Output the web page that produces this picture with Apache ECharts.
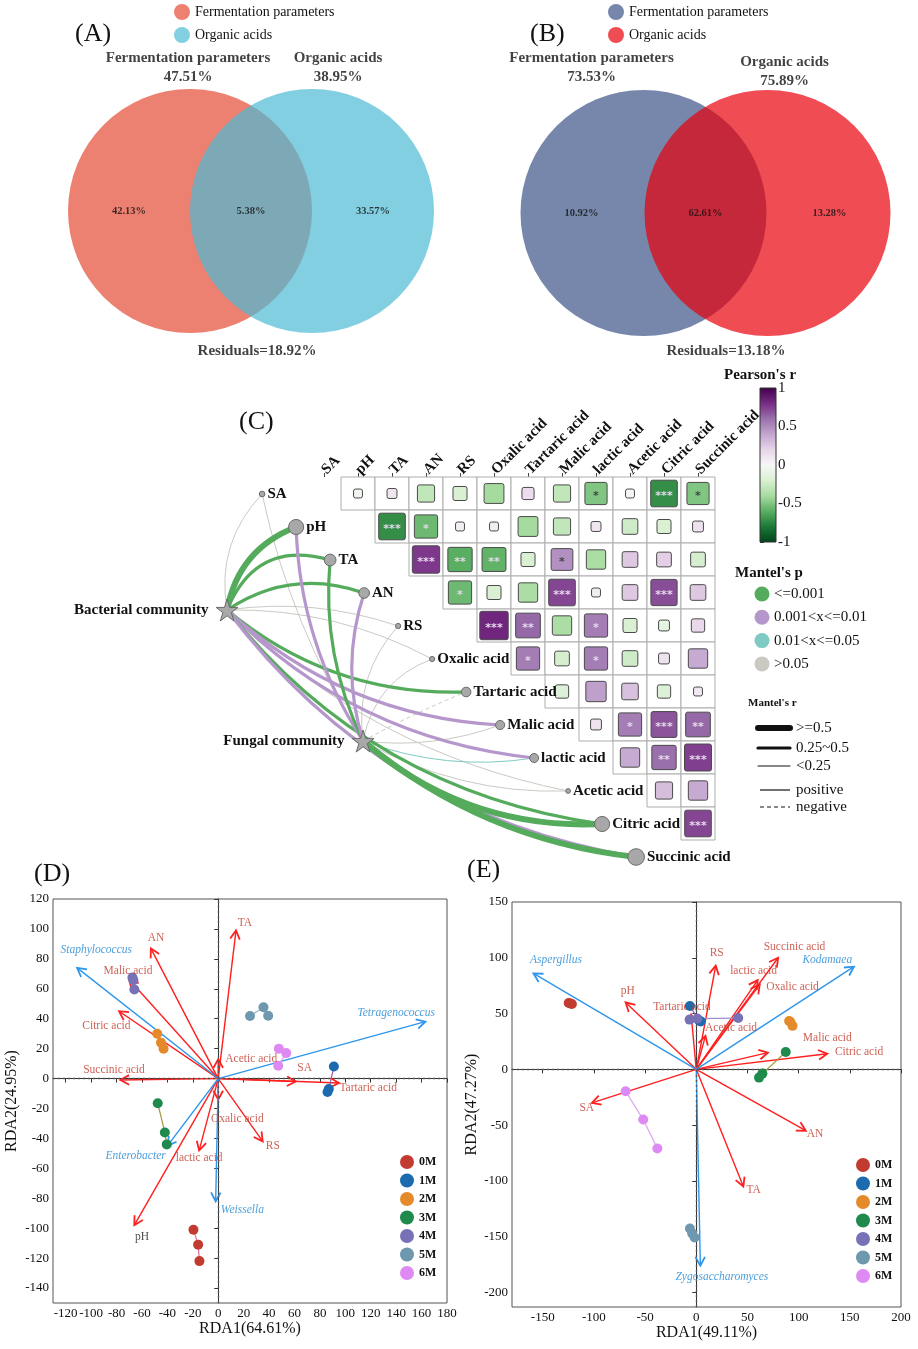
<!DOCTYPE html>
<html><head><meta charset="utf-8">
<script src="https://cdn.jsdelivr.net/npm/echarts@6/dist/echarts.min.js"></script>
<style>html,body{margin:0;padding:0;background:#fff}#c{width:918px;height:1349px}</style>
</head><body><div id="c"></div>
<script>
// ===================== DATA =====================
// Panels A / B (Venn / variance partitioning)
const vennSets = ['Fermentation parameters', 'Organic acids'];
const vennA_setPct = ['47.51%', '38.95%'];
const vennA_regions = ['42.13%', '5.38%', '33.57%'];
const vennA_residual = 'Residuals=18.92%';
const vennB_setPct = ['73.53%', '75.89%'];
const vennB_regions = ['10.92%', '62.61%', '13.28%'];
const vennB_residual = 'Residuals=13.18%';

// Panel C (Pearson correlation + Mantel tests)
const envVars = ['SA','pH','TA','AN','RS','Oxalic acid','Tartaric acid','Malic acid','lactic acid','Acetic acid','Citric acid','Succinic acid'];
// corrR[i][k] = r between envVars[i] and envVars[i+1+k]
const corrR = [
 [-0.05, 0.10, -0.30, -0.20, -0.40, 0.15, -0.30, -0.50, 0.02, -0.72, -0.50],
 [-0.72, -0.55, 0.05, 0.05, -0.40, -0.30, 0.10, -0.25, -0.20, 0.12],
 [0.76, -0.60, -0.58, -0.20, 0.48, -0.38, 0.25, 0.22, -0.22],
 [-0.55, -0.20, -0.38, 0.72, 0.05, 0.25, 0.70, 0.25],
 [0.82, 0.62, -0.38, 0.55, -0.20, -0.12, 0.18],
 [0.55, -0.22, 0.55, -0.25, 0.12, 0.38],
 [-0.18, 0.42, 0.28, -0.18, 0.08],
 [0.12, 0.55, 0.68, 0.62],
 [0.38, 0.60, 0.74],
 [0.30, 0.38],
 [0.72]
];
const corrSig = [
 ['', '', '', '', '', '', '', '*', '', '***', '*'],
 ['***', '*', '', '', '', '', '', '', '', ''],
 ['***', '**', '**', '', '*', '', '', '', ''],
 ['*', '', '', '***', '', '', '***', ''],
 ['***', '**', '', '*', '', '', ''],
 ['*', '', '*', '', '', ''],
 ['', '', '', '', ''],
 ['', '*', '***', '**'],
 ['', '**', '***'],
 ['', ''],
 ['***']
];
const communities = ['Bacterial community', 'Fungal community'];
const mantelR = [
 [0.12, 0.55, 0.38, 0.35, 0.10, 0.10, 0.30, 0.28, 0.27, 0.05, 0.35, 0.30],
 [0.08, 0.30, 0.40, 0.30, 0.10, 0.10, -0.05, 0.10, 0.15, 0.08, 0.55, 0.62]
];
const mantelP = [
 [0.20, 0.001, 0.001, 0.001, 0.30, 0.20, 0.001, 0.005, 0.005, 0.40, 0.001, 0.005],
 [0.30, 0.005, 0.001, 0.005, 0.20, 0.30, 0.60, 0.10, 0.03, 0.30, 0.001, 0.001]
];
const colorbarTicks = [-1, -0.5, 0, 0.5, 1];

// Panels D / E (RDA)
const sampleGroups = ['0M','1M','2M','3M','4M','5M','6M'];
const dEnvX = [61, -66, 14, -53, 35, 0, 95, -70, -15, 0, -78, -77];
const dEnvY = [-2, -98, 99, 87, -42, -14, -3, 66, -48, 13, 45, -1];
const dEnvLabelX = [68, -60, 21, -49, 43, 15, 118, -71, -15, 26, -88, -82];
const dEnvLabelY = [7, -106, 104, 94, -45, -27, -6, 72, -53, 13, 35, 6];
const dSpecies = ['Staphylococcus', 'Tetragenococcus', 'Enterobacter', 'Weissella'];
const dSpX = [-111, 163, -40, -2];
const dSpY = [74, 38, -45, -82];
const dSpLabelX = [-96, 140, -65, 19];
const dSpLabelY = [86, 44, -52, -88];
const dSampleX = [[-19.5,-15.8,-14.8],[91,87,86],[-48,-45,-43],[-47.6,-42,-40.5],[-67.5,-66.7,-66],[25,35.6,39.3],[47.7,53.5,47.2]];
const dSampleY = [[-101,-111,-122],[8,-7,-9],[30,24,20],[-16.5,-36,-44],[67.5,65.7,59.5],[41.8,47.6,42],[20,17,8.5]];
const dXTicks = [-120,-100,-80,-60,-40,-20,0,20,40,60,80,100,120,140,160,180];
const dYTicks = [-140,-120,-100,-80,-60,-40,-20,0,20,40,60,80,100,120];

const eEnvX = [-102, -69, 46, 107, 19, 62, -5, 70, 60, 9, 128, 80];
const eEnvY = [-30, 60, -105, -55, 93, 76, 49, 15, 80, 30, 14, 100];
const eEnvLabelX = [-107, -67, 56, 116, 20, 94, -14, 128, 56, 34, 159, 96];
const eEnvLabelY = [-35, 70, -108, -58, 104, 74, 56, 28, 88, 37, 16, 110];
const eSpecies = ['Aspergillus', 'Kodamaea', 'Zygosaccharomyces'];
const eSpX = [-159, 154, 4];
const eSpY = [86, 92, -176];
const eSpLabelX = [-137, 128, 25];
const eSpLabelY = [98, 98, -186];
const eSampleX = [[-124.6,-123,-121.5],[-6.2,2.6,4.3],[90.7,92,94],[87.4,64.6,61.3],[-6.5,1,41],[-6.2,-4,-1.6],[-69,-51.8,-38]];
const eSampleY = [[59.5,59,58.5],[56.8,44,43],[43.4,42.5,39],[15.6,-3.8,-7.4],[44.6,45.5,46],[-142.6,-147,-150.7],[-19.6,-45,-71]];
const eXTicks = [-150,-100,-50,0,50,100,150,200];
const eYTicks = [-200,-150,-100,-50,0,50,100,150];

// ===================== STYLE =====================
const SERIF = '"Liberation Serif", "Times New Roman", serif';
const PRGN = ['#00441B','#1B7837','#5AAE61','#A6DBA0','#D9F0D3','#F7F7F7','#E7D4E8','#C2A5CF','#9970AB','#762A83','#40004B'];
const P_COLORS = ['#55AB5C', '#B697CC', '#7FCBC4', '#CACAC3'];
const groupColors = ['#C23B30','#1B6BAE','#E58A2B','#1E8A4C','#7771B5','#6E98AE','#DE8AF2'];
const groupLineColors = ['#E56B9A','#8E5B9F','#D9A05B','#A39A3F','#9C8FC9','#9FB4C4','#D8A3F0'];
const RED = '#FF1F1F', BLUE = '#2E96EA', REDTXT = '#C0392B', BLUETXT = '#1F86CF';
const vennColorsA = ['#E64B35', '#4DBBD5'];
const vennColorsB = ['#3C5488', '#E8000B'];
const edgeCurve = [
 [0.25, 0.28, 0.45, 0.25, 0.12, 0.13, -0.19, -0.18, -0.18, -0.15, -0.2, -0.2],
 [0.09, 0.14, 0.14, 0.16, 0.23, 0.28, 0.03, -0.12, -0.13, -0.14, -0.2, -0.15]
];
const communityPos = [[-2.35, 4.03], [1.65, 8.0]];

function starPath() {
  let d = '';
  for (let k = 0; k < 10; k++) {
    const R = k % 2 === 0 ? 50 : 19.1;
    const a = -Math.PI / 2 + k * Math.PI / 5;
    d += (k === 0 ? 'M' : 'L') + (50 + R * Math.cos(a)).toFixed(2) + ',' + (50 + R * Math.sin(a)).toFixed(2) + ' ';
  }
  return 'path://' + d + 'Z';
}

const series = [];

// ---------- Venn panels ----------
function vennPanel(gi, colors, setPct, regions, residual, size, titleOffsets, residualPos) {
  vennSets.forEach((name, k) => {
    series.push({
      type: 'scatter', name, xAxisIndex: gi, yAxisIndex: gi, symbolSize: size, silent: true,
      data: [[k === 0 ? -0.5 : 0.5, 0]],
      itemStyle: { color: colors[k], opacity: 0.7 }, z: 2 + k
    });
  });
  series.push({
    type: 'scatter', xAxisIndex: gi, yAxisIndex: gi, symbolSize: 0, silent: true, z: 10,
    data: vennSets.map((name, k) => ({ value: [k === 0 ? -0.5 : 0.5, 1], name: name + '\n' + setPct[k], label: { offset: titleOffsets[k] } })),
    label: { show: true, position: 'top', distance: 2, formatter: '{b}', align: 'center', lineHeight: 19,
      fontFamily: SERIF, fontWeight: 'bold', fontSize: 15, color: '#111' }
  });
  series.push({
    type: 'scatter', xAxisIndex: gi, yAxisIndex: gi, symbolSize: 0, silent: true, z: 10,
    data: [-1, 0, 1].map((x, k) => ({ value: [x, 0], name: regions[k] })),
    label: { show: true, position: 'inside', formatter: '{b}', fontFamily: SERIF, fontWeight: 'bold', fontSize: 10.5, color: '#111' }
  });
  series.push({
    type: 'scatter', xAxisIndex: gi, yAxisIndex: gi, symbolSize: 0, silent: true, z: 10,
    data: [{ value: residualPos, name: residual }],
    label: { show: true, position: 'inside', formatter: '{b}', fontFamily: SERIF, fontWeight: 'bold', fontSize: 15, color: '#111' }
  });
}
vennPanel(0, vennColorsA, vennA_setPct, vennA_regions, vennA_residual, 244, [[-2, 0], [26, 0]], [0.05, -1.15]);
vennPanel(1, vennColorsB, vennB_setPct, vennB_regions, vennB_residual, 246, [[-52, 0], [17, 4]], [0.165, -1.11]);

// ---------- Panel C heatmap ----------
const heatData = [], heatSig = [];
corrR.forEach((row, i) => row.forEach((r, k) => { heatData.push([i + 1 + k, i, r]); heatSig.push(corrSig[i][k]); }));
const heatIndex = series.length;
series.push({
  type: 'custom', xAxisIndex: 2, yAxisIndex: 2, silent: true, z: 5,
  data: heatData,
  renderItem: (params, api) => {
    const c = api.coord([api.value(0), api.value(1)]);
    const s = api.size([1, 1]);
    const r = api.value(2);
    const side = Math.min(s[0], s[1]) * Math.max(0.27, 0.95 * Math.sqrt(Math.abs(r)));
    const sig = heatSig[params.dataIndex];
    return { type: 'group', children: [
      { type: 'rect', shape: { x: c[0] - s[0] / 2, y: c[1] - s[1] / 2, width: s[0], height: s[1] }, style: { fill: '#fff', stroke: '#ADADAD', lineWidth: 1 } },
      { type: 'rect', shape: { x: c[0] - side / 2, y: c[1] - side / 2, width: side, height: side, r: 2 }, style: { fill: api.visual('color'), stroke: '#4a4a4a', lineWidth: 1 } },
      { type: 'text', x: c[0], y: c[1] + 3, style: { text: sig, align: 'center', verticalAlign: 'middle', fill: Math.abs(r) > 0.52 ? '#E6DAEC' : '#444', font: 'bold 11px "DejaVu Sans"' } }
    ] };
  }
});

// ---------- Panel C network ----------
const STAR = starPath();
const nodes = envVars.map((name, i) => {
  const maxR = Math.max(Math.abs(mantelR[0][i]), Math.abs(mantelR[1][i]));
  return { name, value: [i - 1.32, i + 0.515], symbolSize: 3 + 22 * maxR, label: { position: 'right', distance: 2 } };
});
communities.forEach((name, c) => nodes.push({ name, value: communityPos[c], symbol: STAR, symbolSize: 22,
  label: { position: 'left', distance: 7 } }));
const links = [];
mantelR.forEach((row, c) => row.forEach((r, i) => {
  const p = mantelP[c][i];
  const color = p <= 0.001 ? P_COLORS[0] : p <= 0.01 ? P_COLORS[1] : p <= 0.05 ? P_COLORS[2] : P_COLORS[3];
  const a = Math.abs(r);
  const width = a >= 0.5 ? 6 : a >= 0.25 ? 3.2 : 1;
  links.push({ source: envVars.length + c, target: i,
    lineStyle: { color, width, curveness: edgeCurve[c][i], type: r < 0 ? [4, 3] : 'solid', opacity: 1 } });
}));
links.sort((a, b) => a.lineStyle.width - b.lineStyle.width);
series.push({
  type: 'graph', coordinateSystem: 'cartesian2d', xAxisIndex: 3, yAxisIndex: 3, layout: 'none', silent: true, z: 7,
  data: nodes, links,
  itemStyle: { color: '#A8A8A8', borderColor: '#6a6a6a', borderWidth: 1 },
  lineStyle: { opacity: 1 },
  label: { show: true, formatter: '{b}', fontFamily: SERIF, fontWeight: 'bold', fontSize: 15, color: '#111' },
  emphasis: { disabled: true }
});

// ---------- Colorbar ----------
series.push({
  type: 'custom', xAxisIndex: 4, yAxisIndex: 4, silent: true, data: [[0, 0]],
  renderItem: (params, api) => {
    const a = api.coord([0, 1]), b = api.coord([1, -1]);
    const stops = PRGN.slice().reverse().map((col, k) => ({ offset: k / (PRGN.length - 1), color: col }));
    return { type: 'rect', shape: { x: a[0], y: a[1], width: b[0] - a[0], height: b[1] - a[1] },
      style: { fill: new echarts.graphic.LinearGradient(0, 0, 0, 1, stops), stroke: '#333', lineWidth: 1 } };
  }
});

// ---------- RDA panels ----------
function arrowItem(color) {
  return (params, api) => {
    const o = api.coord([0, 0]), t = api.coord([api.value(0), api.value(1)]);
    const ang = Math.atan2(t[1] - o[1], t[0] - o[0]);
    const L = 10, A = 0.5;
    const p1 = [t[0] - L * Math.cos(ang - A), t[1] - L * Math.sin(ang - A)];
    const p2 = [t[0] - L * Math.cos(ang + A), t[1] - L * Math.sin(ang + A)];
    return { type: 'group', children: [
      { type: 'line', shape: { x1: o[0], y1: o[1], x2: t[0], y2: t[1] }, style: { stroke: color, lineWidth: 1.4 } },
      { type: 'polyline', shape: { points: [p1, t, p2] }, style: { stroke: color, lineWidth: 1.8, fill: null } }
    ] };
  };
}
function rdaPanel(gi, envX, envY, envLX, envLY, spNames, spX, spY, spLX, spLY, sX, sY, darkLabels) {
  series.push({ type: 'custom', xAxisIndex: gi, yAxisIndex: gi, silent: true, z: 3, renderItem: arrowItem(RED),
    data: envX.map((x, i) => [x, envY[i]]) });
  series.push({ type: 'custom', xAxisIndex: gi, yAxisIndex: gi, silent: true, z: 3, renderItem: arrowItem(BLUE),
    data: spX.map((x, i) => [x, spY[i]]) });
  series.push({ type: 'scatter', xAxisIndex: gi, yAxisIndex: gi, symbolSize: 0, silent: true, z: 6,
    data: envVars.map((n, i) => ({ name: n, value: [envLX[i], envLY[i]], label: { color: darkLabels.indexOf(n) >= 0 ? '#222' : REDTXT } })),
    label: { show: true, position: 'inside', formatter: '{b}', fontFamily: SERIF, fontSize: 11.5 },
    markLine: { silent: true, symbol: ['none', 'none'], label: { show: false },
      lineStyle: { type: [2, 3], color: '#555', width: 1.4 }, data: [{ xAxis: 0 }, { yAxis: 0 }] }
  });
  series.push({ type: 'scatter', xAxisIndex: gi, yAxisIndex: gi, symbolSize: 0, silent: true, z: 6,
    data: spNames.map((n, i) => ({ name: n, value: [spLX[i], spLY[i]] })),
    label: { show: true, position: 'inside', formatter: '{b}', fontFamily: SERIF, fontSize: 11.5, fontStyle: 'italic', color: BLUETXT }
  });
  sampleGroups.forEach((g, k) => series.push({
    type: 'line', name: g, xAxisIndex: gi, yAxisIndex: gi, silent: true, z: 5,
    data: sX[k].map((x, m) => [x, sY[k][m]]),
    symbol: 'circle', symbolSize: 10, showSymbol: true,
    itemStyle: { color: groupColors[k] }, lineStyle: { color: groupLineColors[k], width: 1.2 }
  }));
}
rdaPanel(5, dEnvX, dEnvY, dEnvLabelX, dEnvLabelY, dSpecies, dSpX, dSpY, dSpLabelX, dSpLabelY, dSampleX, dSampleY, ['pH']);
rdaPanel(6, eEnvX, eEnvY, eEnvLabelX, eEnvLabelY, eSpecies, eSpX, eSpY, eSpLabelX, eSpLabelY, eSampleX, eSampleY, []);

function rdaAxis(gi, min, max, ticks, name, gap) {
  return { gridIndex: gi, type: 'value', min, max,
    axisLine: { show: true, lineStyle: { color: '#333' } },
    axisTick: { show: true, length: 4, customValues: ticks, lineStyle: { color: '#333' } },
    axisLabel: { customValues: ticks, fontFamily: SERIF, fontSize: 13, color: '#111', margin: 4 },
    splitLine: { show: false },
    name, nameLocation: 'middle', nameGap: gap,
    nameTextStyle: { fontFamily: SERIF, fontSize: 16, color: '#111' } };
}

// ---------- Custom legends (panel C) ----------
const graphics = [];
function gtext(text, x, y, font, align) {
  graphics.push({ type: 'text', x, y, silent: true, style: { text, font, fill: '#111', align: align || 'left', verticalAlign: 'middle' } });
}
gtext("Pearson's r", 760, 375, 'bold 15px ' + SERIF, 'center');
gtext("Mantel's p", 735, 573, 'bold 15px ' + SERIF);
['<=0.001', '0.001<x<=0.01', '0.01<x<=0.05', '>0.05'].forEach((t, k) => {
  const y = 594 + k * 23.3;
  graphics.push({ type: 'circle', silent: true, shape: { cx: 762, cy: y, r: 7.5 }, style: { fill: P_COLORS[k] } });
  gtext(t, 774, y, '15px ' + SERIF);
});
gtext("Mantel's r", 748, 703, 'bold 11px ' + SERIF);
[['>=0.5', 728, 6], ['0.25~0.5', 748, 3.2], ['<0.25', 766, 1]].forEach(([t, y, w]) => {
  graphics.push({ type: 'line', silent: true, shape: { x1: 758, y1: y, x2: 790, y2: y }, style: { stroke: '#111', lineWidth: w, lineCap: 'round' } });
  gtext(t, 796, y, '15px ' + SERIF);
});
[['positive', 790, null], ['negative', 807, [4, 3]]].forEach(([t, y, dash]) => {
  graphics.push({ type: 'line', silent: true, shape: { x1: 760, y1: y, x2: 790, y2: y }, style: { stroke: '#111', lineWidth: 1.2, lineDash: dash } });
  gtext(t, 796, y, '15px ' + SERIF);
});

const legendText = { fontFamily: SERIF, fontSize: 14, color: '#111' };
const option = {
  animation: false,
  backgroundColor: '#fff',
  title: [['(A)', 75, 21], ['(B)', 530, 21], ['(C)', 239, 409], ['(D)', 34, 861], ['(E)', 467, 857]].map(([t, l, tp]) => ({
    text: t, left: l, top: tp, padding: 0, textStyle: { fontFamily: SERIF, fontSize: 26, fontWeight: 'normal', color: '#111' } })),
  legend: [
    { left: 174, top: 4, padding: 0, orient: 'vertical', icon: 'circle', itemWidth: 16, itemHeight: 16, itemGap: 7, selectedMode: false, textStyle: legendText,
      data: vennSets.map((n, k) => ({ name: n, itemStyle: { color: vennColorsA[k], opacity: 0.7 } })) },
    { left: 608, top: 4, padding: 0, orient: 'vertical', icon: 'circle', itemWidth: 16, itemHeight: 16, itemGap: 7, selectedMode: false, textStyle: legendText,
      data: vennSets.map((n, k) => ({ name: n, itemStyle: { color: vennColorsB[k], opacity: 0.7 } })) },
    { left: 400, top: 1155, padding: 0, orient: 'vertical', icon: 'circle', itemWidth: 14, itemHeight: 14, itemGap: 4.5, selectedMode: false,
      textStyle: { fontFamily: SERIF, fontSize: 12, fontWeight: 'bold', color: '#111' }, data: sampleGroups },
    { left: 856, top: 1158, padding: 0, orient: 'vertical', icon: 'circle', itemWidth: 14, itemHeight: 14, itemGap: 4.5, selectedMode: false,
      textStyle: { fontFamily: SERIF, fontSize: 12, fontWeight: 'bold', color: '#111' }, data: sampleGroups }
  ],
  grid: [
    { left: 55.8, top: 15.8, width: 390.4, height: 390.4 },
    { left: 507.1, top: 14.6, width: 396.8, height: 396.8 },
    { left: 307, top: 477, width: 408, height: 363 },
    { left: 35, top: 378, width: 714, height: 528 },
    { left: 760, top: 388, width: 16, height: 154 },
    { left: 53, top: 899, width: 394, height: 404, show: true, borderColor: '#555', borderWidth: 1 },
    { left: 512, top: 902, width: 389, height: 405, show: true, borderColor: '#555', borderWidth: 1 }
  ],
  xAxis: [
    { gridIndex: 0, type: 'value', min: -1.6, max: 1.6, show: false },
    { gridIndex: 1, type: 'value', min: -1.6, max: 1.6, show: false },
    { gridIndex: 2, type: 'category', data: envVars, position: 'top', boundaryGap: true,
      axisLine: { show: false }, axisTick: { show: true, alignWithLabel: true, length: 4, lineStyle: { color: '#444' } },
      axisLabel: { rotate: -45, margin: 5, interval: 0, fontFamily: SERIF, fontWeight: 'bold', fontSize: 15, color: '#111' },
      splitLine: { show: false } },
    { gridIndex: 3, type: 'value', min: -8, max: 13, show: false },
    { gridIndex: 4, type: 'value', min: 0, max: 1, show: false },
    rdaAxis(5, -130, 180, dXTicks, 'RDA1(64.61%)', 18),
    rdaAxis(6, -180, 200, eXTicks, 'RDA1(49.11%)', 18)
  ],
  yAxis: [
    { gridIndex: 0, type: 'value', min: -1.6, max: 1.6, show: false },
    { gridIndex: 1, type: 'value', min: -1.6, max: 1.6, show: false },
    { gridIndex: 2, type: 'category', data: envVars.slice(0, 11), inverse: true, show: false },
    { gridIndex: 3, type: 'value', min: -3, max: 13, inverse: true, show: false },
    { gridIndex: 4, type: 'value', min: -1, max: 1, position: 'right',
      axisLine: { show: false }, axisTick: { show: true, length: 4, customValues: colorbarTicks, lineStyle: { color: '#333' } },
      axisLabel: { customValues: colorbarTicks, margin: 2, fontFamily: SERIF, fontSize: 15, color: '#111' }, splitLine: { show: false } },
    rdaAxis(5, -150, 120, dYTicks, 'RDA2(24.95%)', 33),
    rdaAxis(6, -213, 150, eYTicks, 'RDA2(47.27%)', 30)
  ],
  visualMap: { type: 'continuous', show: false, min: -1, max: 1, dimension: 2, seriesIndex: heatIndex, inRange: { color: PRGN } },
  graphic: graphics,
  series
};
const chart = echarts.init(document.getElementById('c'), null, { renderer: 'canvas' });
chart.setOption(option);
</script></body></html>
